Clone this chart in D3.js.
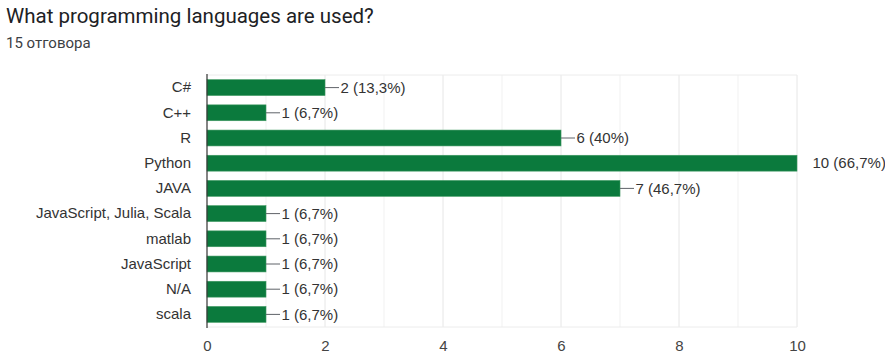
<!DOCTYPE html>
<html>
<head>
<meta charset="utf-8">
<script src="https://cdn.jsdelivr.net/npm/d3@7"></script>
<style>
  html, body { margin: 0; padding: 0; background: #fff; }
  svg { display: block; }
</style>
</head>
<body>
<svg id="chart" width="885" height="353"></svg>
<script>
// Survey answers: language -> number of respondents
const languages = ["C#", "C++", "R", "Python", "JAVA", "JavaScript, Julia, Scala", "matlab", "JavaScript", "N/A", "scala"];
const counts = [2, 1, 6, 10, 7, 1, 1, 1, 1, 1];
const percents = ["13,3%", "6,7%", "40%", "66,7%", "46,7%", "6,7%", "6,7%", "6,7%", "6,7%", "6,7%"];
const xTicks = [0, 2, 4, 6, 8, 10];
const titleText = "What programming languages are used?";
const subtitleText = "15 отговора";

const data = languages.map((name, i) => ({ name, count: counts[i], pct: percents[i] }));

const svg = d3.select("#chart");
const headFont = "Roboto, 'Liberation Sans', Arial, sans-serif";
const font = "'Liberation Sans', Arial, sans-serif";

const margin = { left: 207, right: 88, top: 75, bottom: 26 };
const W = 885, H = 353;

const x = d3.scaleLinear().domain([0, 10]).range([margin.left, W - margin.right]);
const y = d3.scaleBand().domain(languages).range([margin.top, H - margin.bottom]).paddingInner(0.37).paddingOuter(0.185);

// Title and subtitle
svg.append("text").attr("x", 6).attr("y", 23)
  .attr("font-family", headFont).attr("font-size", 20.5).attr("fill", "#202124")
  .text(titleText);
svg.append("text").attr("x", 6).attr("y", 48)
  .attr("font-family", headFont).attr("font-size", 15).attr("fill", "#3c4043")
  .text(subtitleText);

// Gridlines at every unit
const grid = svg.append("g");
grid.selectAll("line").data(d3.range(1, 11)).join("line")
  .attr("x1", d => x(d)).attr("x2", d => x(d))
  .attr("y1", margin.top).attr("y2", H - margin.bottom)
  .attr("stroke", d => d % 2 === 0 ? "#e6e6e6" : "#f1f1f1").attr("stroke-width", 1);
grid.append("line")
  .attr("x1", x(0)).attr("x2", x(10))
  .attr("y1", margin.top).attr("y2", margin.top)
  .attr("stroke", "#ececec");
grid.append("line")
  .attr("x1", x(0)).attr("x2", x(10))
  .attr("y1", H - margin.bottom).attr("y2", H - margin.bottom)
  .attr("stroke", "#ececec");

// Bars
svg.append("g").selectAll("rect").data(data).join("rect")
  .attr("x", x(0))
  .attr("y", d => y(d.name))
  .attr("width", d => x(d.count) - x(0))
  .attr("height", y.bandwidth())
  .attr("fill", "#0b7a3d")
  .attr("stroke", "#3f9a62").attr("stroke-width", 0.6);

// Value labels with leader lines
const lab = svg.append("g");
data.forEach(d => {
  const cy = y(d.name) + y.bandwidth() / 2;
  const isMax = d.count === d3.max(counts);
  if (!isMax) {
    lab.append("line")
      .attr("x1", x(d.count)).attr("x2", x(d.count) + 14)
      .attr("y1", cy).attr("y2", cy)
      .attr("stroke", "#5f6368").attr("stroke-width", 1);
  }
  lab.append("text")
    .attr("x", x(d.count) + 15.5)
    .attr("y", cy).attr("dy", "0.35em")
    .attr("font-family", font).attr("font-size", 15).attr("fill", "#333")
    .text(`${d.count} (${d.pct})`);
});

// Category axis
const yAxis = svg.append("g").attr("transform", `translate(${x(0)},0)`)
  .call(d3.axisLeft(y).tickSize(0).tickPadding(16));
yAxis.select(".domain").attr("stroke", "#333").attr("stroke-width", 1.2)
  .attr("d", `M0,${margin.top - 1}V${H - margin.bottom + 1}`);
yAxis.selectAll("text").attr("font-family", font).attr("font-size", 15).attr("fill", "#333");

// Value axis
const xAxis = svg.append("g").attr("transform", `translate(0,${H - margin.bottom})`)
  .call(d3.axisBottom(x).tickValues(xTicks).tickSize(0).tickPadding(13));
xAxis.select(".domain").remove();
xAxis.selectAll("text").attr("font-family", font).attr("font-size", 15).attr("fill", "#444");
</script>
</body>
</html>
